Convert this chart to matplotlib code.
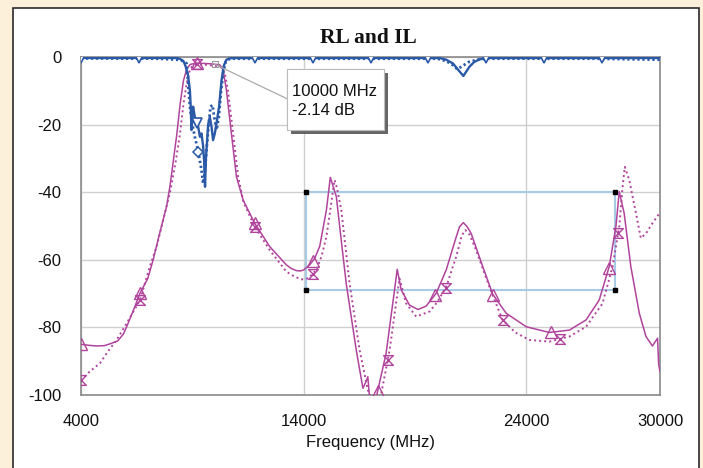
import numpy as np
import matplotlib
matplotlib.use("Agg")
import matplotlib.pyplot as plt
from matplotlib.path import Path
from matplotlib.patches import Rectangle
import matplotlib.patheffects as pe

plt.rcParams['font.family'] = ['Liberation Sans', 'DejaVu Sans']

# ---------------- data (frequency in MHz, level in dB) ----------------
il_f = [4000, 4350, 4700, 5050, 5375, 5650, 5900, 6050, 6350, 6650, 7000, 7240, 7500,
        7840, 8000, 8140, 8300, 8450, 8600, 8750, 8900, 9200, 9500, 9800, 10000, 10230,
        10380, 10530, 10760, 10980, 11280, 11800, 12475, 13220, 13450, 13670, 13850,
        14000, 14270, 14500, 14720, 15020, 15195, 15465, 15700, 15910, 16360, 16660,
        16800, 16880, 16960, 17100, 17250, 17350, 17700, 18080, 18200, 18380, 18750,
        19130, 19500, 19950, 20400, 20850, 21000, 21170, 21350, 21520, 22040, 22490,
        23090, 23990, 25030, 25930, 26680, 27270, 27720, 28020, 28170, 28390, 28690,
        29070, 29370, 29660, 29890, 29940, 30000]
il_db = [-85, -85.3, -85.5, -85.4, -84.7, -84, -82, -79.8, -75, -69.9, -65.5, -60, -53,
         -44.3, -38, -31, -23, -14, -7, -3.5, -2.2, -1.8, -1.9, -2.0, -2.14, -2.3,
         -3.8, -9.8, -23, -35.4, -42.3, -49.2, -56.1, -61.5, -62.6, -63.2, -63.3,
         -63, -61.5, -59.5, -56, -45.3, -35.6, -41.3, -55, -67, -86.7, -98,
         -96, -94.6, -101, -104, -101, -98, -87.7, -68.9, -62.8, -68.9, -73.4,
         -74.7, -73.7, -69.9, -63, -53.2, -50.2, -49, -50.3, -52.2, -62, -70.2,
         -75.8, -79.8, -81.5, -80.8, -77.8, -71.9, -62, -50.2, -39.8, -46.2, -62,
         -75.8, -82.7, -85.5, -83.2, -91, -93]

il2_f = [4000, 4400, 4850, 5200, 5600, 6050, 6650, 7090, 7400, 7690, 8000, 8250, 8440,
         8600, 8740, 8890, 9000, 9200, 9600, 10000, 10250, 10450, 10600, 10830, 11055,
         11300, 11800, 12475, 13220, 13600, 13900, 14200, 14570, 14800, 15020, 15200,
         15320, 15390, 15500, 15690, 16060, 16510, 16880, 17100, 17470, 17860, 18230,
         18300, 18600, 19050, 19650, 20000, 20400, 20850, 21100, 21260, 21450, 21740,
         22340, 22930, 23500, 24130, 25030, 25930, 26680, 27420, 27870, 28170, 28320,
         28420, 28620, 28920, 29140, 29370, 29660, 30000]
il2_db = [-95.6, -93, -90.6, -87.2, -83.7, -78.8, -71.9, -62, -56, -48.2, -40, -31, -23,
          -14, -8, -3.8, -2.6, -2.2, -2.3, -2.6, -2.8, -4.5, -10, -22.6, -35.4,
          -43, -50.2, -57.1, -63.5, -65, -65.8, -65.5, -63, -59, -53.2, -45,
          -39.3, -36.4, -39, -45.3, -67, -86.7, -98.5, -102, -100, -86.7, -68.9,
          -65.5, -72.9, -76.8, -75.3, -72.5, -68, -59, -52.8, -51.2, -52.6, -57.1,
          -68, -77.8, -81.5, -83.7, -84.2, -82.7, -79.8, -72.9, -62, -50.2, -38.4,
          -32.5, -36.4, -46.2, -53.6, -52.2, -49.2, -46]

rl_f = [4000, 8300, 8450, 8600, 8700, 8810, 8890, 8930, 8960, 9000, 9035, 9110, 9260,
        9340, 9410, 9485, 9530, 9570, 9610, 9650, 9710, 9785, 9860, 9930, 10010, 10085,
        10200, 10310, 10410, 10530, 10760, 20100, 20400, 20700, 21000, 21170, 21300,
        21440, 21650, 21890, 22200, 30000]
rl_db = [-0.3, -0.3, -0.6, -1.2, -2.8, -5.5, -10, -15, -21.6, -17, -14.7, -17.7, -20.6,
         -23.6, -22.6, -26.5, -31, -38.4, -30, -26, -20, -17.7, -20.6, -24.6, -22.6, -19.6,
         -14.7, -7, -2.6, -0.8, -0.3, -0.3, -0.8, -1.9, -4.3, -5.6, -4.3,
         -2.9, -1.5, -0.7, -0.3, -0.3]

rl2_f = [4000, 7500, 8300, 8600, 8740, 8810, 8890, 8990, 9110, 9215, 9305, 9410, 9485,
         9560, 9635, 9740, 9815, 9905, 9980, 10085, 10190, 10280, 10380, 10500, 10680,
         20000, 20400, 20700, 20900, 21100, 21400, 21800, 22200, 27000, 30000]
rl2_db = [-0.4, -0.5, -0.8, -1.2, -1.9, -7.8, -14.7, -19.6, -23.6, -26.5, -29.5, -33.4, -37.4,
          -34.4, -27.5, -19.6, -14.7, -14.2, -17.7, -21.6, -17.7, -10.7, -4.8, -1.4, -0.5,
          -0.5, -1.2, -2.4, -3.6, -2.8, -1.5, -0.8, -0.5, -0.5, -0.8]

il_marks = [4000, 6650, 9200, 11800, 14400, 17320, 19900, 22500, 25100, 27700]
il2_marks = [4000, 6650, 9200, 11800, 14400, 17770, 20370, 22930, 25520, 28120]
rl_marks = [4000, 6600, 9200, 11800, 14400, 17000, 19600, 22200, 24800, 27400]
rl2_marks = [9260]

mask_f = [14100, 28000]
mask_db = [-40, -69]

marker_f = 10000
marker_db = -2.14

x_ticks = [4000, 14000, 24000, 30000]
y_ticks = [0, -20, -40, -60, -80, -100]

# ---------------- styling ----------------
MAG = '#B0449C'
BLUE = '#2A59A8'
W, H = 703, 468

fig = plt.figure(figsize=(W / 100, H / 100), dpi=100, facecolor='#FDF0DA')
fig.patches.append(Rectangle((13 / W, -0.05), (699 - 13) / W, 1.05 - 8 / H,
                             transform=fig.transFigure, facecolor='white',
                             edgecolor='#2A2A2A', lw=1.2, zorder=-10))

ax = fig.add_axes([81 / W, 1 - 395 / H, (660 - 81) / W, (395 - 57) / H])
ax.set_facecolor('white')

hour = Path([(-1, 1), (1, 1), (-1, -1), (1, -1), (-1, 1)],
            [Path.MOVETO, Path.LINETO, Path.LINETO, Path.LINETO, Path.CLOSEPOLY])

# mask rectangle
mx = [mask_f[0], mask_f[1], mask_f[1], mask_f[0], mask_f[0]]
my = [mask_db[0], mask_db[0], mask_db[1], mask_db[1], mask_db[0]]
ax.plot(mx, my, color='#A8CBE6', lw=1.5, zorder=2)
ax.plot(mx[:4], my[:4], ls='none', marker='s', ms=2.2, color='black', zorder=3)

# S21 traces
ax.plot(il2_f, il2_db, color=MAG, lw=1.4, ls=(0, (1, 1.6)), zorder=3)
ax.plot(il_f, il_db, color=MAG, lw=1.1, zorder=4)
ax.plot(il_marks, np.interp(il_marks, il_f, il_db), ls='none', marker='^', ms=8,
        mfc='none', mec=MAG, mew=1.0, zorder=5)
ax.plot(il2_marks, np.interp(il2_marks, il2_f, il2_db), ls='none', marker=hour, ms=7,
        mfc='none', mec=MAG, mew=1.0, zorder=5)

# S11 traces
ax.plot(rl2_f, rl2_db, color=BLUE, lw=2.0, ls=(0, (0.8, 1.0)), zorder=6)
ax.plot(rl_f, rl_db, color=BLUE, lw=1.7, zorder=7)
ax.plot(rl_marks, np.interp(rl_marks, rl_f, rl_db), ls='none', marker='v', ms=7,
        mfc='white', mec=BLUE, mew=1.2, zorder=8)
ax.plot(rl2_marks, np.interp(rl2_marks, rl2_f, rl2_db), ls='none', marker='D', ms=5,
        mfc='white', mec=BLUE, mew=1.1, zorder=8)

# data marker callout
box_f = [13240, 17590]
box_db = [-21.6, -3.55]
ax.plot([marker_f], [marker_db], ls='none', marker='s', ms=4, mfc='none',
        mec='#999999', mew=0.8, zorder=9)
ax.plot([marker_f, box_f[0]], [marker_db, -12.3], color='#AAAAAA', lw=0.9, zorder=9)
box = Rectangle((box_f[0], box_db[0]), box_f[1] - box_f[0], box_db[1] - box_db[0],
                fc='white', ec='#BBBBBB', lw=0.8, zorder=10)
box.set_path_effects([
    pe.withSimplePatchShadow(offset=(3, -3), shadow_rgbFace='#555555', alpha=0.9),
    pe.Normal()])
ax.add_patch(box)
ax.text(13460, -13.1, f'{marker_f} MHz\n{marker_db:.2f} dB', ha='left', va='center',
        fontsize=12, linespacing=1.32, color='#111111', zorder=11)

ax.set_xlim(4000, 30000)
ax.set_ylim(-100, 0)
ax.set_xticks(x_ticks)
ax.set_xticklabels([str(v) for v in x_ticks])
ax.set_yticks(y_ticks)
ax.set_yticklabels([str(v) for v in y_ticks])
ax.tick_params(length=0, labelsize=12, labelcolor='#111111')
ax.tick_params(axis='x', pad=14)
ax.tick_params(axis='y', pad=14)
ax.grid(True, color='#CFCFCF', lw=1.0)
ax.set_axisbelow(True)
for s in ax.spines.values():
    s.set_color('#8A8A8A')
    s.set_linewidth(1.2)

fig.text(368 / W, 1 - 38 / H, 'RL and IL', ha='center', va='center', fontsize=15.5,
         fontweight='bold', family=['Liberation Serif', 'DejaVu Serif'], color='#111111')
fig.text(370 / W, 1 - 443 / H, 'Frequency (MHz)', ha='center', va='center',
         fontsize=12, color='#111111')

fig.savefig('out.png', dpi=100, facecolor=fig.get_facecolor())
